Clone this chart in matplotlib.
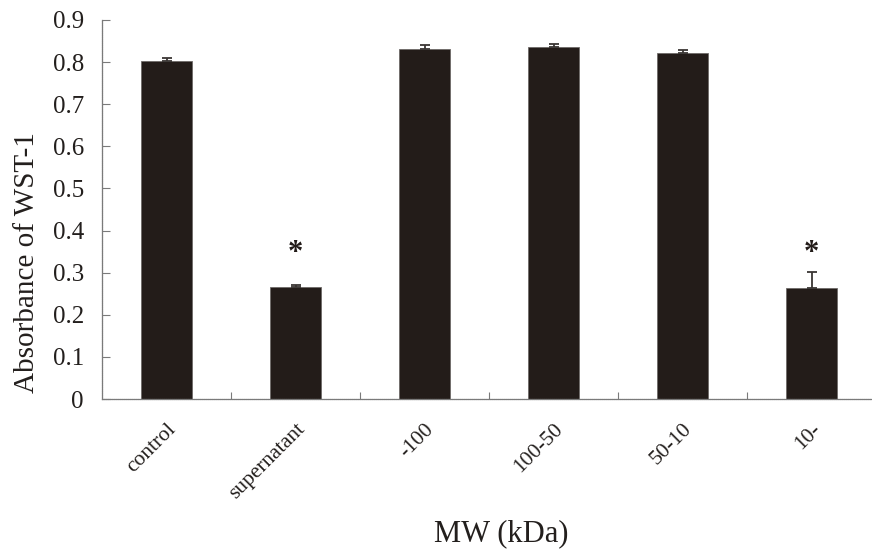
import matplotlib
matplotlib.use("Agg")
from matplotlib import pyplot as plt
import numpy as np

# values
categories = ["control", "supernatant", "-100", "100-50", "50-10", "10-"]
means = [0.803, 0.266, 0.832, 0.835, 0.822, 0.263]
errors = [0.006, 0.004, 0.008, 0.007, 0.006, 0.038]
star_idx = [1, 5]
star_y = [0.345, 0.345]
yticks = [0, 0.1, 0.2, 0.3, 0.4, 0.5, 0.6, 0.7, 0.8, 0.9]

plt.rcParams['font.family'] = ['Liberation Serif', 'DejaVu Serif']

fig = plt.figure(figsize=(8.72, 5.54), dpi=100)
# axes box: left spine at x=102px, 0.9 at y=20px, 0 at y=399px
ax = fig.add_axes([102 / 872, 1 - 399 / 554, 770 / 872, 379 / 554])

x = np.arange(len(categories))
bar_color = '#231c19'
text_color = '#231f1d'
ax.bar(x, means, width=0.40, color=bar_color, edgecolor='#6e6a68', linewidth=0.6, zorder=2)
ax.errorbar(x, means, yerr=[np.zeros(len(errors)), errors], fmt='none',
            ecolor='#3a3634', elinewidth=1.3, capsize=3.5, capthick=1.3, zorder=3)

for i, yv in zip(star_idx, star_y):
    ax.text(x[i], yv, '*', ha='center', va='center', fontsize=22, fontweight='bold',
            color=bar_color)

# Excel-like axes
ax.set_ylim(0, 0.9)
ax.set_xlim(-0.5, -0.5 + 770 / 129)
ax.set_yticks(yticks)
ax.set_yticklabels(['0' if v == 0 else f'{v:.1f}' for v in yticks])
ax.spines['top'].set_visible(False)
ax.spines['right'].set_visible(False)
for s in ['left', 'bottom']:
    ax.spines[s].set_color('#7a7a7a')
    ax.spines[s].set_linewidth(0.9)
    ax.spines[s].set_linestyle((0, (1, 0.6)))

ax.tick_params(axis='y', direction='in', length=6, width=0.8, color='#7a7a7a',
               labelsize=18, pad=13, labelcolor=text_color)
ax.set_xticks(x)
ax.set_xticklabels(categories, rotation=45, ha='right', rotation_mode='anchor',
                   fontsize=15.5, color=text_color)
ax.tick_params(axis='x', which='major', length=0, pad=15)
ax.set_xticks(x[:-1] + 0.5, minor=True)
ax.tick_params(axis='x', which='minor', direction='in', length=5, width=0.8, color='#7a7a7a')

ax.set_ylabel('Absorbance of WST-1', fontsize=21, color=text_color)
ax.yaxis.set_label_coords(-0.081, 0.36)
ax.set_xlabel('MW (kDa)', fontsize=22, color=text_color)
ax.xaxis.set_label_coords((501 - 102) / 770, -(519 - 399) / 379)

plt.savefig('out.png', dpi=100)
